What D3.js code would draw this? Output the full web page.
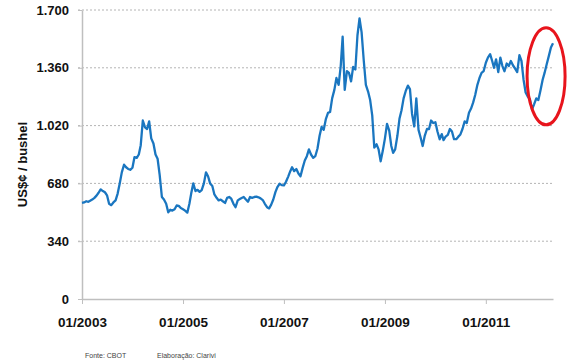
<!DOCTYPE html>
<html>
<head>
<meta charset="utf-8">
<script src="https://cdn.jsdelivr.net/npm/d3@7"></script>
<style>
body { margin: 0; background: #fff; }
text { font-family: "Liberation Sans", Arial, sans-serif; }
</style>
</head>
<body>
<div id="chart"></div>
<script>
// soja CBOT, valores quinzenais (US$ cents / bushel)
const prices2003 = [565, 568, 575, 572, 578, 585, 595, 608, 625, 645, 635, 628, 610, 560, 552, 568, 580, 620, 680, 745, 790, 775, 765, 760];
const prices2004 = [772, 835, 830, 850, 905, 1050, 1010, 1000, 1045, 945, 915, 850, 825, 730, 600, 585, 560, 510, 525, 520, 528, 550, 548, 535];
const prices2005 = [528, 520, 508, 560, 620, 680, 635, 642, 630, 640, 680, 745, 722, 680, 665, 615, 595, 580, 585, 575, 565, 595, 600, 590];
const prices2006 = [560, 540, 580, 588, 594, 600, 585, 572, 600, 595, 600, 602, 598, 592, 582, 560, 540, 533, 555, 585, 630, 660, 678, 670];
const prices2007 = [668, 690, 720, 752, 775, 752, 765, 738, 722, 770, 815, 840, 880, 850, 830, 840, 885, 960, 1013, 995, 1060, 1095, 1100, 1180];
const prices2008 = [1230, 1300, 1260, 1370, 1543, 1230, 1340, 1330, 1280, 1365, 1350, 1550, 1650, 1570, 1400, 1260, 1220, 1170, 1080, 890, 910, 880, 810, 870];
const prices2009 = [945, 1030, 990, 900, 860, 880, 960, 1060, 1110, 1180, 1225, 1255, 1235, 1090, 1015, 1180, 995, 950, 900, 960, 1000, 1000, 1050, 1035];
const prices2010 = [1040, 985, 940, 970, 935, 955, 965, 1000, 985, 940, 940, 955, 968, 1000, 1045, 1035, 1095, 1120, 1155, 1200, 1260, 1300, 1330, 1340];
const prices2011 = [1390, 1420, 1440, 1400, 1360, 1410, 1335, 1420, 1370, 1340, 1385, 1370, 1400, 1375, 1355, 1335, 1435, 1400, 1290, 1215, 1190, 1175, 1115, 1145];
const prices2012 = [1180, 1170, 1230, 1290, 1330, 1380, 1430, 1480, 1505];

const years = [2003, 2004, 2005, 2006, 2007, 2008, 2009, 2010, 2011, 2012];
const pricesByYear = [prices2003, prices2004, prices2005, prices2006, prices2007,
                      prices2008, prices2009, prices2010, prices2011, prices2012];

const yTicks = [0, 340, 680, 1020, 1360, 1700];
const xTickYears = [2003, 2005, 2007, 2009, 2011];
const yTitle = "US$¢ / bushel";
const sourceNote = "Fonte: CBOT";
const authorNote = "Elaboração: Clarivi";
const highlightDate = "2012-03-12";
const highlightPrice = 1310;

// monta a serie: 1o e 16o dia de cada mes
const data = [];
years.forEach((yr, k) => {
    pricesByYear[k].forEach((p, j) => {
        data.push({ date: new Date(yr, Math.floor(j / 2), j % 2 ? 16 : 1), price: p });
    });
});

const width = 570, height = 363;
const margin = { top: 10, right: 17, bottom: 64, left: 82 };

const svg = d3.select('#chart')
    .append('svg')
    .attr('width', width)
    .attr('height', height);

const x = d3.scaleTime()
    .domain(d3.extent(data, d => d.date))
    .range([margin.left, width - margin.right]);

const y = d3.scaleLinear()
    .domain([0, 1700])
    .range([height - margin.bottom, margin.top]);

const ptFormat = d3.formatLocale({ decimal: ",", thousands: ".", grouping: [3], currency: ["", ""] }).format(",d");

// linhas de grade pontilhadas
svg.append('g')
    .selectAll('line')
    .data(yTicks.filter(d => d > 0))
    .join('line')
    .attr('x1', margin.left - 4)
    .attr('x2', width - margin.right)
    .attr('y1', d => y(d))
    .attr('y2', d => y(d))
    .attr('stroke', '#b4b4b4')
    .attr('stroke-width', 1)
    .attr('stroke-dasharray', '2,2');

// eixo y
const yAxis = svg.append('g')
    .attr('transform', `translate(${margin.left},0)`)
    .call(d3.axisLeft(y).tickValues(yTicks).tickFormat(ptFormat).tickSize(4).tickSizeOuter(0).tickPadding(9));
yAxis.select('.domain').attr('stroke', '#bfbfbf').attr('stroke-width', 1.5);
yAxis.selectAll('.tick line').attr('stroke', '#bfbfbf');
yAxis.selectAll('text')
    .attr('fill', '#111')
    .style('font-size', '13px')
    .style('font-weight', 'bold');

// eixo x
const xAxis = svg.append('g')
    .attr('transform', `translate(0,${height - margin.bottom})`)
    .call(d3.axisBottom(x)
        .tickValues(xTickYears.map(yr => new Date(yr, 0, 1)))
        .tickFormat(d3.timeFormat('%m/%Y'))
        .tickSize(5)
        .tickSizeOuter(0));
xAxis.select('.domain').attr('stroke', '#bfbfbf').attr('stroke-width', 1.5);
xAxis.selectAll('.tick line').attr('stroke', '#bfbfbf');
xAxis.selectAll('text')
    .attr('dy', null)
    .attr('y', 28)
    .attr('fill', '#111')
    .style('font-size', '13.5px')
    .style('font-weight', 'bold');

// titulo do eixo y
svg.append('text')
    .attr('transform', `translate(27,${(y(0) + y(1700)) / 2 + 10}) rotate(-90)`)
    .attr('text-anchor', 'middle')
    .attr('fill', '#111')
    .style('font-size', '13px')
    .style('font-weight', 'bold')
    .text(yTitle);

// serie de precos
const line = d3.line()
    .x(d => x(d.date))
    .y(d => y(d.price));

svg.append('path')
    .datum(data)
    .attr('fill', 'none')
    .attr('stroke', '#1a76c0')
    .attr('stroke-width', 2.3)
    .attr('stroke-linejoin', 'round')
    .attr('d', line);

// destaque em vermelho
svg.append('ellipse')
    .attr('cx', x(d3.timeParse('%Y-%m-%d')(highlightDate)))
    .attr('cy', y(highlightPrice))
    .attr('rx', 19)
    .attr('ry', 48.5)
    .attr('fill', 'none')
    .attr('stroke', '#e8141c')
    .attr('stroke-width', 3);

// rodape
svg.append('text')
    .attr('x', 85)
    .attr('y', 358)
    .attr('fill', '#444')
    .style('font-size', '7px')
    .text(sourceNote);
svg.append('text')
    .attr('x', 157)
    .attr('y', 358)
    .attr('fill', '#444')
    .style('font-size', '7px')
    .text(authorNote);
</script>
</body>
</html>
